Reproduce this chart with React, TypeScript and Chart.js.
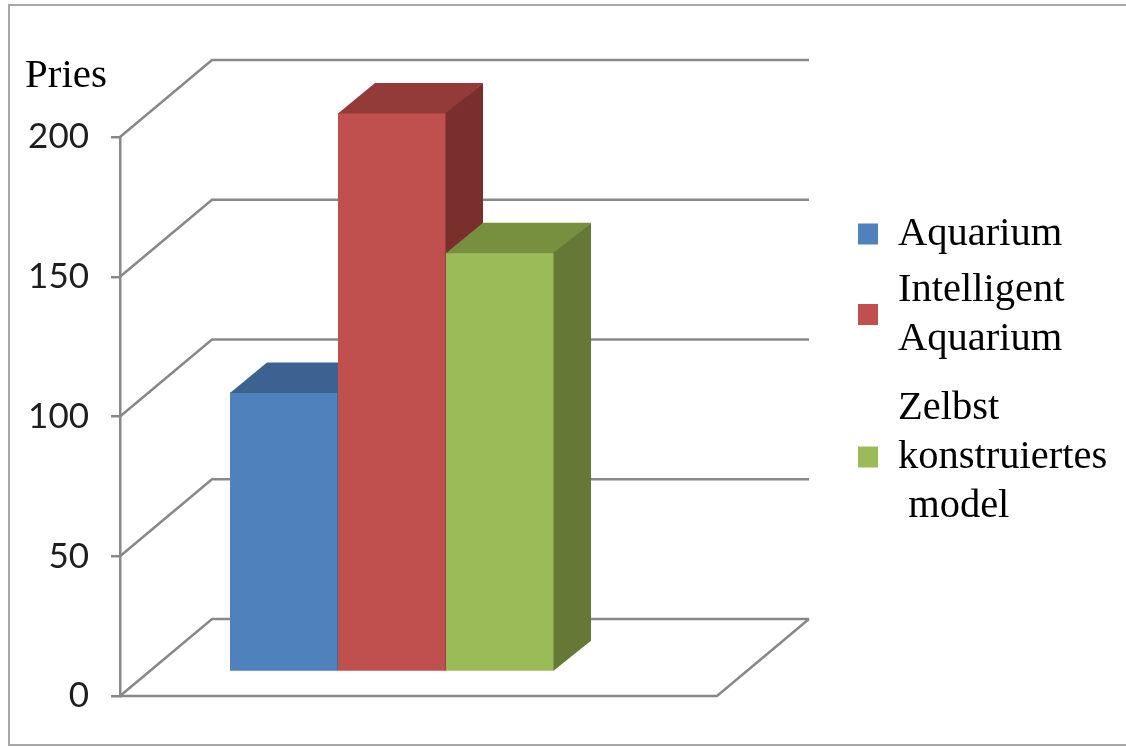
import React, { useEffect, useRef } from 'react';
import { Chart, registerables } from 'chart.js';

Chart.register(...registerables);

// ---- data ----
const categories = [''];
const seriesNames = ['Aquarium', 'Intelligent Aquarium', 'Zelbst konstruiertes model'];
const legendLines = [['Aquarium'], ['Intelligent', 'Aquarium'], ['Zelbst', 'konstruiertes', ' model']];
const aquariumValues = [100];
const intelligentValues = [200];
const zelbstValues = [150];
const yTicks = [0, 50, 100, 150, 200];
const yAxisTitle = 'Pries';

// ---- styles ----
const frontColors = ['#4F81BD', '#C0504D', '#9BBB59'];
const topColors = ['#3C6291', '#923B39', '#77903F'];
const sideColors = ['#33547C', '#7B2F2D', '#657937'];
const GRID = '#888888';
const WALL_DX = 92;
const WALL_DY = 77;
const BAR_DX = 37;
const BAR_DY = 30;
const BAR_SHIFT_X = -26.5;
const BAR_SHIFT_Y = -24;

const threeD = {
  id: 'threeD',
  beforeDraw(chart: any) {
    const ctx = chart.ctx;
    ctx.save();
    ctx.fillStyle = '#ffffff';
    ctx.fillRect(0, 0, chart.width, chart.height);
    ctx.strokeStyle = '#a8a8a8';
    ctx.lineWidth = 2;
    ctx.strokeRect(9, 5, 1140, 740);
    ctx.restore();
  },
  beforeDatasetsDraw(chart: any) {
    const ctx = chart.ctx;
    const { left, right, bottom } = chart.chartArea;
    const ys = chart.scales.y;
    ctx.save();
    ctx.strokeStyle = GRID;
    ctx.lineWidth = 2.5;
    ys.ticks.forEach((t: any) => {
      const py = ys.getPixelForValue(t.value);
      ctx.beginPath();
      ctx.moveTo(left, py);
      ctx.lineTo(left + WALL_DX, py - WALL_DY);
      ctx.lineTo(right + WALL_DX, py - WALL_DY);
      ctx.stroke();
    });
    ctx.beginPath();
    ctx.moveTo(left, bottom);
    ctx.lineTo(right, bottom);
    ctx.lineTo(right + WALL_DX, bottom - WALL_DY);
    ctx.stroke();

    ctx.translate(BAR_SHIFT_X, BAR_SHIFT_Y);
    chart.data.datasets.forEach((_ds: any, i: number) => {
      const meta = chart.getDatasetMeta(i);
      meta.data.forEach((el: any) => {
        const { x, y, base, width } = el.getProps(['x', 'y', 'base', 'width'], true);
        const l = x - width / 2;
        const r = x + width / 2;
        el.draw(ctx);
        // top face
        ctx.fillStyle = topColors[i];
        ctx.beginPath();
        ctx.moveTo(l, y + 0.5);
        ctx.lineTo(r, y + 0.5);
        ctx.lineTo(r + BAR_DX, y - BAR_DY);
        ctx.lineTo(l + BAR_DX, y - BAR_DY);
        ctx.closePath();
        ctx.fill();
        // side face
        ctx.fillStyle = sideColors[i];
        ctx.beginPath();
        ctx.moveTo(r - 0.5, y);
        ctx.lineTo(r + BAR_DX, y - BAR_DY);
        ctx.lineTo(r + BAR_DX, base - BAR_DY);
        ctx.lineTo(r - 0.5, base);
        ctx.closePath();
        ctx.fill();
      });
    });
    ctx.restore();
    return false;
  },
  afterDraw(chart: any) {
    const ctx = chart.ctx;
    ctx.save();
    ctx.fillStyle = '#000000';
    ctx.textAlign = 'left';
    ctx.textBaseline = 'alphabetic';
    ctx.font = '41px "Liberation Serif"';
    ctx.fillText(yAxisTitle, 25, 87);

    ctx.font = '40.5px "Liberation Serif"';
    const firstBaselines = [245, 301, 419];
    const lineH = 49;
    legendLines.forEach((lines, i) => {
      const b0 = firstBaselines[i];
      lines.forEach((txt, j) => {
        ctx.fillStyle = '#000000';
        ctx.fillText(txt, 898, b0 + j * lineH);
      });
      const cy = b0 - 11 + ((lines.length - 1) * lineH) / 2;
      ctx.fillStyle = frontColors[i];
      ctx.fillRect(858, cy - 10.5, 20, 21);
    });
    ctx.restore();
  },
};

export default function App() {
  const ref = useRef<HTMLCanvasElement | null>(null);
  useEffect(() => {
    if (!ref.current) return;
    const chart = new Chart(ref.current, {
      type: 'bar',
      data: {
        labels: categories,
        datasets: [
          { label: seriesNames[0], data: aquariumValues, backgroundColor: frontColors[0], borderWidth: 0 },
          { label: seriesNames[1], data: intelligentValues, backgroundColor: frontColors[1], borderWidth: 0 },
          { label: seriesNames[2], data: zelbstValues, backgroundColor: frontColors[2], borderWidth: 0 },
        ],
      },
      options: {
        responsive: false,
        animation: false,
        events: [],
        layout: { padding: { left: 0, top: 137, right: 409, bottom: 51 } },
        datasets: { bar: { barPercentage: 1, categoryPercentage: 324 / 597, inflateAmount: 0 } },
        plugins: { legend: { display: false }, tooltip: { enabled: false }, title: { display: false } },
        scales: {
          x: { display: false },
          y: {
            min: 0,
            max: 200,
            afterFit: (s: any) => { s.width = 120; },
            afterBuildTicks: (s: any) => { s.ticks = yTicks.map((v) => ({ value: v })); },
            ticks: { padding: 22, color: '#1e1e1e', font: { family: 'Lato', size: 35 } },
            grid: { drawOnChartArea: false, drawTicks: true, tickLength: 9, color: GRID, lineWidth: 2.5 },
            border: { display: true, color: GRID, width: 2.5 },
          },
        },
      },
      plugins: [threeD],
    } as any);
    return () => chart.destroy();
  }, []);
  return (
    <div style={{ position: 'fixed', left: 0, top: 0, width: 1126, height: 747, background: '#fff' }}>
      <canvas ref={ref} width={1126} height={747} style={{ display: 'block' }} />
    </div>
  );
}
